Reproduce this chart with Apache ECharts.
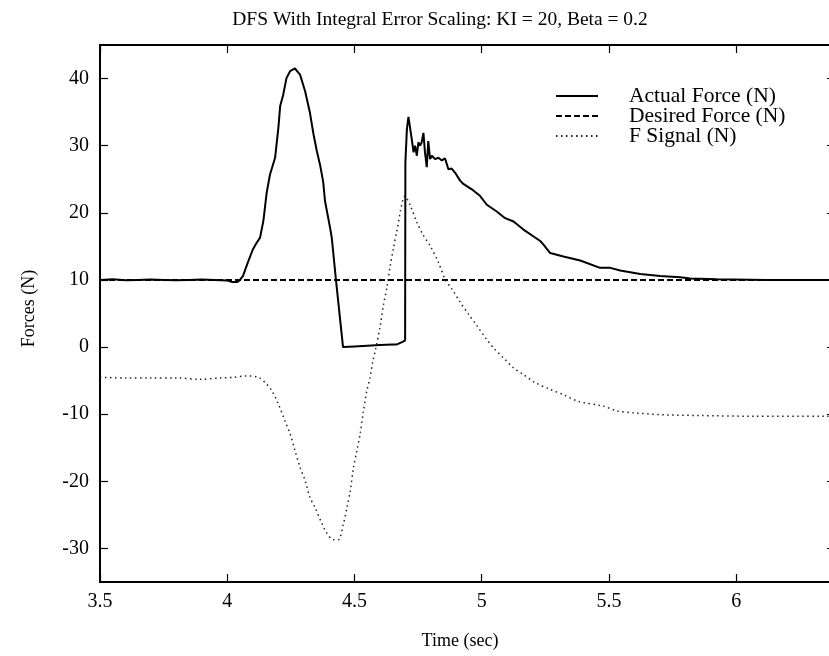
<!DOCTYPE html>
<html>
<head>
<meta charset="utf-8">
<script src="https://cdn.jsdelivr.net/npm/echarts@6/dist/echarts.min.js"></script>
<style>
  html, body { margin: 0; padding: 0; background: #fff; }
  #chart { width: 829px; height: 656px; }
</style>
</head>
<body>
<div id="chart"></div>
<script>
// Time samples (s) and measured contact force (N)
const actualTime = [
  3.50, 3.55, 3.60, 3.65, 3.70, 3.75, 3.80, 3.85, 3.90, 3.95, 4.00, 4.02, 4.04, 4.05,
  4.062, 4.08, 4.10, 4.115, 4.129, 4.142, 4.155, 4.168, 4.188, 4.201, 4.208, 4.22,
  4.233, 4.247, 4.266, 4.286, 4.306, 4.325, 4.339, 4.352, 4.365, 4.377, 4.384, 4.404,
  4.411, 4.428, 4.455, 4.50, 4.55, 4.60, 4.65, 4.667, 4.691, 4.699, 4.700, 4.706,
  4.712, 4.719, 4.725, 4.732, 4.738, 4.745, 4.751, 4.758, 4.764, 4.771, 4.777, 4.784,
  4.790, 4.797, 4.804, 4.817, 4.830, 4.843, 4.856, 4.869, 4.882, 4.895, 4.915, 4.928,
  4.961, 4.994, 5.020, 5.059, 5.092, 5.125, 5.164, 5.230, 5.242, 5.269, 5.321, 5.387,
  5.465, 5.505, 5.544, 5.623, 5.701, 5.780, 5.819, 5.924, 6.120, 6.366, 6.40
];
const actualForce = [
  10.0, 10.1, 9.95, 10.0, 10.05, 10.0, 9.95, 10.0, 10.05, 10.0, 9.9, 9.7, 9.7, 10.0,
  10.6, 12.5, 14.5, 15.5, 16.3, 18.8, 23.0, 25.7, 28.2, 32.7, 35.9, 37.6,
  40.1, 41.1, 41.5, 40.6, 38.1, 34.9, 31.7, 29.2, 27.1, 24.6, 21.8, 17.8,
  16.2, 9.7, 0.0, 0.1, 0.2, 0.3, 0.4, 0.4, 0.8, 1.0, 27.5, 32.5,
  34.3, 34.2, 31.0, 29.0, 30.0, 28.5, 30.5, 30.0, 30.5, 31.9, 29.0, 26.8,
  30.7, 28.0, 28.5, 28.0, 28.2, 27.8, 28.1, 26.5, 26.6, 26.0, 24.8, 24.3,
  23.5, 22.5, 21.2, 20.2, 19.2, 18.7, 17.5, 15.8, 15.3, 14.0, 13.5, 12.9,
  11.8, 11.8, 11.4, 10.9, 10.6, 10.4, 10.2, 10.1, 10.0, 10.0, 10.0
];

// Commanded (desired) force setpoint
const desiredTime = [3.5, 6.4];
const desiredForce = [10, 10];

// Force signal fed to the controller
const signalTime = [
  3.50, 3.60, 3.70, 3.80, 3.893, 3.972, 4.024, 4.077, 4.122, 4.149, 4.175, 4.201,
  4.227, 4.247, 4.266, 4.286, 4.306, 4.325, 4.345, 4.371, 4.391, 4.417, 4.437, 4.456,
  4.470, 4.483, 4.496, 4.509, 4.522, 4.535, 4.548, 4.561, 4.572, 4.581, 4.601, 4.614,
  4.627, 4.640, 4.653, 4.666, 4.699, 4.719, 4.745, 4.771, 4.797, 4.830, 4.856, 4.882,
  4.915, 4.948, 4.981, 5.020, 5.053, 5.085, 5.125, 5.164, 5.210, 5.269, 5.321, 5.380,
  5.478, 5.531, 5.596, 5.727, 5.859, 6.055, 6.357, 6.40
];
const signalForce = [
  -4.5, -4.6, -4.6, -4.6, -4.8, -4.6, -4.5, -4.3, -4.5, -5.3, -6.5, -8.5,
  -11.0, -12.9, -15.4, -17.9, -19.9, -22.4, -23.9, -26.2, -27.7, -28.7, -28.7, -26.4,
  -24.0, -21.5, -18.0, -15.5, -13.0, -9.6, -6.6, -4.6, -2.1, -0.7, 3.1, 6.3,
  8.8, 12.0, 14.7, 17.2, 22.5, 21.1, 18.6, 16.6, 15.1, 12.6, 10.1, 8.7,
  6.7, 4.9, 3.2, 1.1, -0.4, -1.6, -3.1, -4.1, -5.3, -6.3, -7.1, -8.1,
  -8.8, -9.5, -9.8, -10.1, -10.2, -10.3, -10.3, -10.3
];

// Axis tick positions
const timeTicks = [3.5, 4, 4.5, 5, 5.5, 6];
const forceTicks = [-30, -20, -10, 0, 10, 20, 30, 40];

const pairs = (xs, ys) => xs.map((x, i) => [x, ys[i]]);

const FONT = 'Liberation Serif';
const INK = '#000';

const chart = echarts.init(document.getElementById('chart'), null, { renderer: 'canvas' });

const xBase = {
  type: 'value', min: 3.5, max: 6.4,
  splitLine: { show: false },
  axisLine: { show: true, onZero: false, lineStyle: { color: INK, width: 2 } },
  axisTick: { show: true, inside: true, length: 8, customValues: timeTicks, lineStyle: { color: INK, width: 1.2 } }
};
const yBase = {
  type: 'value', min: -35, max: 45,
  splitLine: { show: false },
  axisLine: { show: true, onZero: false, lineStyle: { color: INK, width: 2 } },
  axisTick: { show: true, inside: true, length: 8, customValues: forceTicks, lineStyle: { color: INK, width: 1.2 } }
};

chart.setOption({
  animation: false,
  backgroundColor: '#fff',
  title: {
    text: 'DFS With Integral Error Scaling: KI = 20, Beta = 0.2',
    left: 435, top: 5, textAlign: 'center',
    textStyle: { fontFamily: FONT, fontSize: 19.5, fontWeight: 'normal', color: INK }
  },
  legend: {
    orient: 'vertical',
    left: 550, top: 80,
    itemWidth: 42, itemHeight: 10, itemGap: -2,
    itemStyle: { opacity: 0 },
    textStyle: { fontFamily: FONT, fontSize: 21.5, color: INK, padding: [0, 0, 0, 26] },
    data: ['Actual Force (N)', 'Desired Force (N)', 'F Signal (N)']
  },
  // The plot box runs a little past the right edge of the canvas
  grid: { left: 100, width: 738, top: 45, bottom: 74, containLabel: false, outerBoundsMode: 'none' },
  xAxis: [
    Object.assign({}, xBase, {
      position: 'bottom',
      name: 'Time (sec)', nameLocation: 'middle', nameGap: 50,
      nameTextStyle: { fontFamily: FONT, fontSize: 18, color: INK, padding: [0, 18, 0, 0] },
      axisLabel: { show: true, customValues: timeTicks, margin: 10, fontFamily: FONT, fontSize: 20, color: INK }
    }),
    Object.assign({}, xBase, { position: 'top', axisLabel: { show: false } })
  ],
  yAxis: [
    Object.assign({}, yBase, {
      position: 'left',
      name: 'Forces (N)', nameLocation: 'middle', nameGap: 62,
      nameTextStyle: { fontFamily: FONT, fontSize: 18, color: INK, padding: [0, 0, 0, 10] },
      axisLabel: { show: true, customValues: forceTicks, margin: 11, fontFamily: FONT, fontSize: 20, color: INK }
    }),
    Object.assign({}, yBase, {
      position: 'right', axisLabel: { show: false },
      axisTick: Object.assign({}, yBase.axisTick, { length: 11 })
    })
  ],
  series: [
    {
      name: 'Actual Force (N)', type: 'line', xAxisIndex: 0, yAxisIndex: 0,
      data: pairs(actualTime, actualForce),
      symbol: 'none', smooth: false,
      lineStyle: { color: INK, width: 2 }, itemStyle: { color: INK }
    },
    {
      name: 'Desired Force (N)', type: 'line', xAxisIndex: 0, yAxisIndex: 0,
      data: pairs(desiredTime, desiredForce),
      symbol: 'none',
      lineStyle: { color: INK, width: 2, type: [6, 3] }, itemStyle: { color: INK }
    },
    {
      name: 'F Signal (N)', type: 'line', xAxisIndex: 0, yAxisIndex: 0,
      data: pairs(signalTime, signalForce),
      symbol: 'none', smooth: 0.3,
      lineStyle: { color: '#222', width: 1.5, type: [1.5, 3.5] }, itemStyle: { color: '#222' }
    }
  ]
});
</script>
</body>
</html>
